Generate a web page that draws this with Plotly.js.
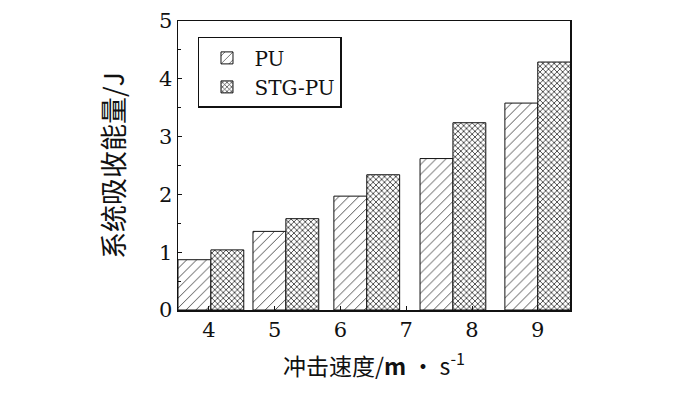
<!DOCTYPE html>
<html>
<head>
<meta charset="utf-8">
<script src="https://cdn.plot.ly/plotly-3.0.1.min.js"></script>
<style>html,body{margin:0;padding:0;background:#fff;}#chart{width:700px;height:393px;}</style>
</head>
<body>
<div id="chart"></div>
<script>
// Impact velocity (group centre positions), m/s
const velocity = [4.03, 5.17, 6.40, 7.71, 9.0];
// Absorbed energy, J
const puEnergy = [0.87, 1.36, 1.97, 2.62, 3.58];
const stgEnergy = [1.04, 1.58, 2.34, 3.24, 4.29];
const seriesNames = ['PU', 'STG-PU'];
const xTicks = [4, 5, 6, 7, 8, 9];
const yTicks = [0, 1, 2, 3, 4, 5];

const serif = '"DejaVu Serif", "Liberation Serif", serif';
const cjk = '"Noto Sans CJK SC", sans-serif';

const traces = [
  {
    type: 'bar', name: seriesNames[0], x: velocity, y: puEnergy,
    width: 0.5, offset: -0.5,
    marker: {
      color: '#ffffff',
      line: {color: '#111', width: 1},
      pattern: {shape: '/', size: 7, solidity: 0.12, fgcolor: '#333', bgcolor: '#ffffff', fillmode: 'replace'}
    }
  },
  {
    type: 'bar', name: seriesNames[1], x: velocity, y: stgEnergy,
    width: 0.5, offset: 0,
    marker: {
      color: '#ffffff',
      line: {color: '#111', width: 1},
      pattern: {shape: 'x', size: 4, solidity: 0.35, fgcolor: '#222', bgcolor: '#ffffff', fillmode: 'replace'}
    }
  }
];

const layout = {
  width: 700, height: 393,
  margin: {l: 178, r: 130, t: 21, b: 83},
  paper_bgcolor: '#fff', plot_bgcolor: '#fff',
  barmode: 'overlay',
  showlegend: true,
  legend: {
    x: 0.051, y: 0.945, xanchor: 'left', yanchor: 'top',
    bgcolor: '#fff', bordercolor: '#111', borderwidth: 1.5,
    font: {family: serif, size: 20, color: '#111'},
    tracegroupgap: 0, itemwidth: 45
  },
  xaxis: {
    range: [3.53, 9.49],
    tickvals: xTicks, ticktext: xTicks.map(String),
    ticks: 'inside', ticklen: 4, tickcolor: '#111',
    showline: true, linecolor: '#111', linewidth: 1.5, mirror: true,
    showgrid: false, zeroline: false,
    tickfont: {family: serif, size: 21, color: '#111'},
    title: {text: '冲击速度/<b>m</b> • s<sup>-1</sup>', font: {family: cjk, size: 23, color: '#111'}, standoff: 18}
  },
  yaxis: {
    range: [0, 5],
    tickvals: yTicks, ticktext: yTicks.map(String),
    ticks: 'inside', ticklen: 4, tickcolor: '#111',
    minor: {dtick: 0.5, ticks: 'inside', ticklen: 3, tickcolor: '#111', showgrid: false},
    showline: true, linecolor: '#111', linewidth: 1.5, mirror: true,
    showgrid: false, zeroline: false,
    tickfont: {family: serif, size: 21, color: '#111'},
    title: {text: '系统吸收能量/J', font: {family: cjk, size: 27, color: '#111'}, standoff: 26}
  }
};

Plotly.newPlot('chart', traces, layout, {displayModeBar: false, staticPlot: true});
</script>
</body>
</html>
